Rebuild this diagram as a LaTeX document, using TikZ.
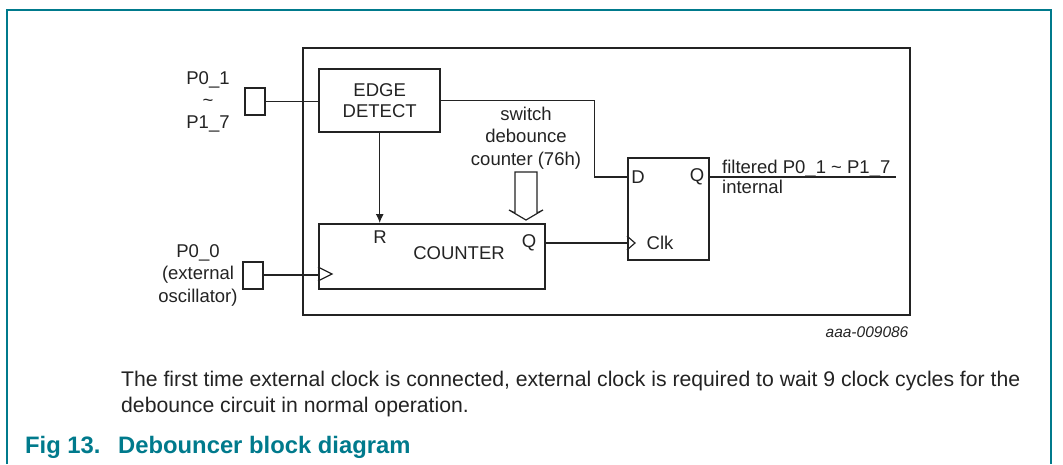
\documentclass[tikz,border=0pt]{standalone}
\usepackage{fontspec}
\setmainfont{Liberation Sans}
\usetikzlibrary{positioning,arrows.meta}
\definecolor{nxpteal}{RGB}{0,122,140}
\definecolor{inkgray}{RGB}{35,35,35}

\begin{document}
\begin{tikzpicture}[x=1pt,y=-1pt,font=\fontsize{18.5}{21}\selectfont,text=inkgray,
  blk/.style={draw=inkgray,line width=2.4pt,inner sep=0pt,anchor=north west},
  pinbox/.style={draw=inkgray,line width=2pt,inner sep=0pt,minimum width=20pt,minimum height=27pt,anchor=north west},
  sig/.style={draw=inkgray,line width=1.2pt},
  lbl/.style={inner sep=0pt,align=center}]
\useasboundingbox (0,0) rectangle (1063,464);
% teal frame
\draw[nxpteal,line width=1.5pt] (7,464) -- (7,10) -- (1051,10) -- (1051,464);
% blocks
\node[blk,minimum width=607pt,minimum height=267pt] (chip) at (302,47) {};
\node[blk,minimum width=121pt,minimum height=63pt,align=center] (edge) at (318,68) {EDGE\\DETECT};
\node[blk,minimum width=226pt,minimum height=65pt] (cnt) at (318,223) {};
\node[blk,line width=2pt,minimum width=81pt,minimum height=102pt] (ff) at (627,157) {};
\node[pinbox] (pina) at (244,87) {};
\node[pinbox] (pinb) at (242,260.5) {};
% pin labels
\node[lbl,font=\fontsize{18.5}{22}\selectfont] (pinalbl) at (208,102) {P0\_1\\\textasciitilde\\P1\_7};
\node[lbl,font=\fontsize{18.5}{22.5}\selectfont] (pinblbl) at (198,275) {P0\_0\\(external\\oscillator)};
% block labels
\node[lbl] (cntlbl) at (459,253) {COUNTER};
\node[lbl] (cntr) at (380,237) {R};
\node[lbl] (cntqlbl) at (529,243) {Q};
\node[lbl] (ffd) at (638,177) {D};
\node[lbl] (ffq) at (697,177) {Q};
\node[lbl] (ffclklbl) at (660,243) {Clk};
\node[lbl,font=\fontsize{18.5}{22.5}\selectfont] (swlbl) at (526,138) {switch\\debounce\\counter (76h)};
% connection points
\coordinate (ffdin) at (627,177);
\coordinate (ffclk) at (627,243);
\coordinate (cntq) at (544,243);
\coordinate (outend) at (896,177);
% wires
\draw[sig] (pina.east) -- (edge.west |- pina.east);
\draw[sig] (edge.east) -- ++(153,0) |- (ffdin);
\draw[sig,-{Latex[length=9pt,width=8pt]}] (edge.south) -- (edge.south |- cnt.north);
\draw[sig] (cntq) -- (ffclk);
\draw[sig] (pinb.east) -- (pinb.east -| cnt.west);
\draw[sig] (ff.east |- outend) -- (outend);
% clock marks
\draw[sig] (318,267) -- (332,274) -- (318,281);
\draw[sig] (627,236) -- (635,243) -- (627,250);
% hollow arrow
\draw[sig,line join=miter] (515,172) -- (537,172) -- (537,213) -- (543,210) -- (526,220) -- (509,210) -- (515,213) -- cycle;
% output text
\node[inner sep=0pt,anchor=base west] (outa) at (722,173) {filtered P0\_1 \textasciitilde\ P1\_7};
\node[inner sep=0pt,anchor=base west] (outb) at (722,193) {internal};
\node[inner sep=0pt,font=\fontsize{15.5}{18}\selectfont\itshape] (figid) at (867,332) {aaa-009086};
% note and caption
\node[inner sep=0pt,anchor=base west,align=left,font=\fontsize{21.2}{25.5}\selectfont] (note) at (121,412)
  {The first time external clock is connected, external clock is required to wait 9 clock cycles for the\\debounce circuit in normal operation.};
\node[inner sep=0pt,anchor=base west,text=nxpteal,font=\fontsize{23.8}{26}\selectfont\bfseries] (cap) at (25,453)
  {\makebox[93pt][l]{Fig 13.}Debouncer block diagram};
\end{tikzpicture}
\end{document}
